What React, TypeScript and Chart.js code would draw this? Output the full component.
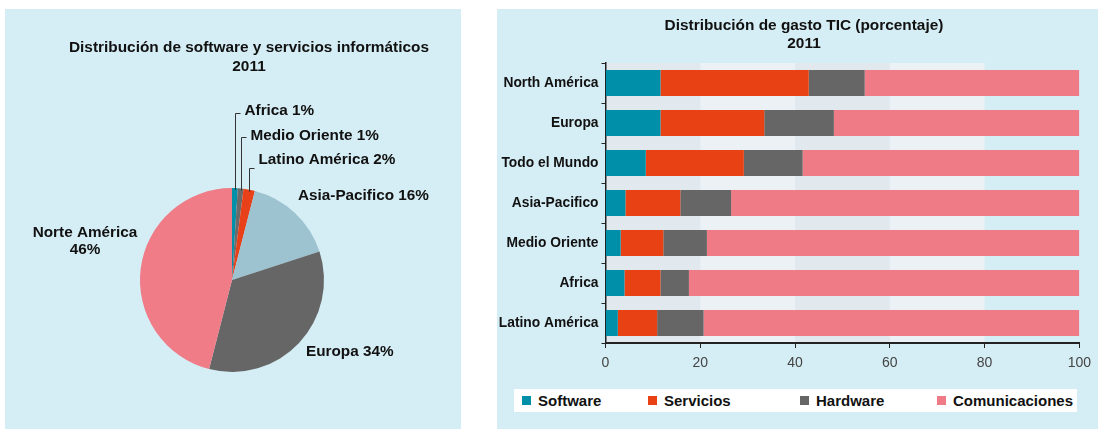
import React, { useEffect, useRef } from "react";
import { Chart, registerables } from "chart.js";
Chart.register(...registerables);

const FONT = '"Liberation Sans", Arial, Helvetica, sans-serif';
Chart.defaults.font.family = FONT;

// ---- Pie data ----
const pieTitle = ["Distribución de software y servicios informáticos", "2011"];
const pieLabels = ["Africa", "Medio Oriente", "Latino América", "Asia-Pacifico", "Europa", "Norte América"];
const pieValues = [1, 1, 2, 16, 34, 46];
const pieColors = ["#0090a8", "#6a6a6a", "#e8411a", "#9dc3d1", "#666666", "#ef7c87"];

// ---- Bar data ----
const barTitle = ["Distribución de gasto TIC (porcentaje)", "2011"];
const regions = ["North América", "Europa", "Todo el Mundo", "Asia-Pacifico", "Medio Oriente", "Africa", "Latino América"];
const software = [11.6, 11.6, 8.5, 4.2, 3.2, 4.0, 2.6];
const servicios = [31.3, 21.9, 20.7, 11.6, 9.0, 7.6, 8.3];
const hardware = [11.8, 14.7, 12.4, 10.7, 9.2, 6.0, 9.8];
const comunicaciones = [45.3, 51.8, 58.4, 73.5, 78.6, 82.4, 79.3];
const seriesNames = ["Software", "Servicios", "Hardware", "Comunicaciones"];
const seriesColors = ["#008fa8", "#e84214", "#666666", "#ef7b86"];
const xTicks = [0, 20, 40, 60, 80, 100];

// label layout (offsets from pie centre), kept separate from data
const pieLabelLayout: any[] = [
  { leader: true, elbowDy: -167, textDy: -169 },
  { leader: true, elbowDy: -143, textDy: -144 },
  { leader: true, elbowDy: -112, textDy: -120 },
  { dx: 66, dy: -84, align: "left" },
  { dx: 74, dy: 72, align: "left" },
  { dx: -147, dy: -47, align: "center", split: true },
];

const BG = "#d5edf4";

const titlePlugin = (lines: string[], cx: number, ys: number[]) => ({
  id: "titleText",
  afterDraw(chart: any) {
    const ctx = chart.ctx;
    ctx.save();
    ctx.font = `bold 15.4px ${FONT}`;
    ctx.fillStyle = "#111";
    ctx.textAlign = "center";
    ctx.textBaseline = "middle";
    lines.forEach((l, i) => ctx.fillText(l, cx, ys[i]));
    ctx.restore();
  },
});

const pieLabelPlugin = {
  id: "pieLabels",
  afterDatasetsDraw(chart: any) {
    const ctx = chart.ctx;
    const meta = chart.getDatasetMeta(0);
    ctx.save();
    ctx.font = `bold 15.3px ${FONT}`;
    ctx.fillStyle = "#111";
    ctx.strokeStyle = "#333";
    ctx.lineWidth = 1;
    ctx.textBaseline = "middle";
    meta.data.forEach((arc: any, i: number) => {
      const p = arc.getProps(["x", "y", "startAngle", "endAngle", "outerRadius"], true);
      const mid = (p.startAngle + p.endAngle) / 2;
      const lay = pieLabelLayout[i];
      const text = `${pieLabels[i]} ${pieValues[i]}%`;
      if (lay.leader) {
        const ax = Math.round(p.x + Math.cos(mid) * p.outerRadius) + 0.5;
        const ay = p.y + Math.sin(mid) * p.outerRadius + 2;
        const ey = Math.round(p.y + lay.elbowDy) + 0.5;
        ctx.beginPath();
        ctx.moveTo(ax, ay);
        ctx.lineTo(ax, ey);
        ctx.lineTo(ax + 5, ey);
        ctx.stroke();
        ctx.textAlign = "left";
        ctx.fillText(text, ax + 9, p.y + lay.textDy);
      } else if (lay.split) {
        ctx.textAlign = "center";
        ctx.fillText(pieLabels[i], p.x + lay.dx, p.y + lay.dy);
        ctx.fillText(`${pieValues[i]}%`, p.x + lay.dx, p.y + lay.dy + 17);
      } else {
        ctx.textAlign = lay.align;
        ctx.fillText(text, p.x + lay.dx, p.y + lay.dy);
      }
    });
    ctx.restore();
  },
};

const bandPlugin = {
  id: "bands",
  beforeDraw(chart: any) {
    const ctx = chart.ctx;
    const xs = chart.scales.x;
    const a = chart.chartArea;
    ctx.save();
    for (let i = 0; i < xTicks.length - 2; i++) {
      const x0 = xs.getPixelForValue(xTicks[i]);
      const x1 = xs.getPixelForValue(xTicks[i + 1]);
      ctx.fillStyle = i % 2 === 0 ? "#e1e9ef" : "#ecf1f5";
      ctx.fillRect(x0, a.top, x1 - x0, a.bottom - a.top);
    }
    ctx.restore();
  },
};

export default function App() {
  const pieRef = useRef<HTMLCanvasElement>(null);
  const barRef = useRef<HTMLCanvasElement>(null);

  useEffect(() => {
    const pie = new Chart(pieRef.current!, {
      type: "pie",
      data: {
        labels: pieLabels,
        datasets: [{ data: pieValues, backgroundColor: pieColors, borderWidth: 0 }],
      },
      options: {
        responsive: false,
        animation: false,
        layout: { padding: { left: 135, right: 137, top: 179, bottom: 57 } },
        plugins: { legend: { display: false }, tooltip: { enabled: false } },
      },
      plugins: [pieLabelPlugin, titlePlugin(pieTitle, 244, [39, 58])],
    });

    const datasets = [software, servicios, hardware, comunicaciones].map((d, i) => ({
      label: seriesNames[i],
      data: d,
      backgroundColor: seriesColors[i],
      borderWidth: 0,
      barPercentage: 0.65,
      categoryPercentage: 1,
    }));

    const bar = new Chart(barRef.current!, {
      type: "bar",
      data: { labels: regions, datasets },
      options: {
        indexAxis: "y",
        responsive: false,
        animation: false,
        layout: { padding: { left: 0, right: 17.4, top: 54, bottom: 36 } },
        plugins: { legend: { display: false }, tooltip: { enabled: false } },
        scales: {
          x: {
            stacked: true,
            min: 0,
            max: 100,
            afterBuildTicks: (s: any) => {
              s.ticks = xTicks.map((v) => ({ value: v }));
            },
            ticks: { color: "#444", font: { size: 14 }, padding: 7 },
            grid: { display: true, drawOnChartArea: false, drawTicks: true, tickLength: 5, color: "#222" },
            border: { display: true, color: "#222", width: 2 },
            afterFit: (s: any) => {
              s.height = 50;
            },
          },
          y: {
            stacked: true,
            ticks: { color: "#111", font: { size: 13.8, weight: "bold" }, padding: 3 },
            grid: { display: true, drawOnChartArea: false, drawTicks: true, tickLength: 4, color: "#222", offset: true },
            border: { display: true, color: "#222", width: 1.5 },
            afterFit: (s: any) => {
              s.width = 108.5;
            },
          },
        },
      },
      plugins: [bandPlugin, titlePlugin(barTitle, 307, [17, 35])],
    } as any);

    return () => {
      pie.destroy();
      bar.destroy();
    };
  }, []);

  const legendLefts = [8, 134, 286, 423];

  return (
    <div style={{ position: "absolute", left: 0, top: 0, width: 1102, height: 429, background: "#fff", fontFamily: FONT }}>
      <div style={{ position: "absolute", left: 5, top: 9, width: 456, height: 420, background: BG }}>
        <canvas ref={pieRef} width={456} height={420} style={{ width: 456, height: 420, display: "block" }} />
      </div>
      <div style={{ position: "absolute", left: 497, top: 9, width: 601, height: 420, background: BG }}>
        <canvas ref={barRef} width={601} height={420} style={{ width: 601, height: 420, display: "block" }} />
        <div style={{ position: "absolute", left: 17, top: 380, width: 563, height: 23, background: "#fff" }}>
          {seriesNames.map((n, i) => (
            <div key={n} style={{ position: "absolute", left: legendLefts[i], top: 0, height: 23, display: "flex", alignItems: "center" }}>
              <span style={{ display: "inline-block", width: 9, height: 9, background: seriesColors[i], marginRight: 7 }} />
              <span style={{ fontWeight: "bold", fontSize: 15, color: "#111", lineHeight: "23px" }}>{n}</span>
            </div>
          ))}
        </div>
      </div>
    </div>
  );
}
